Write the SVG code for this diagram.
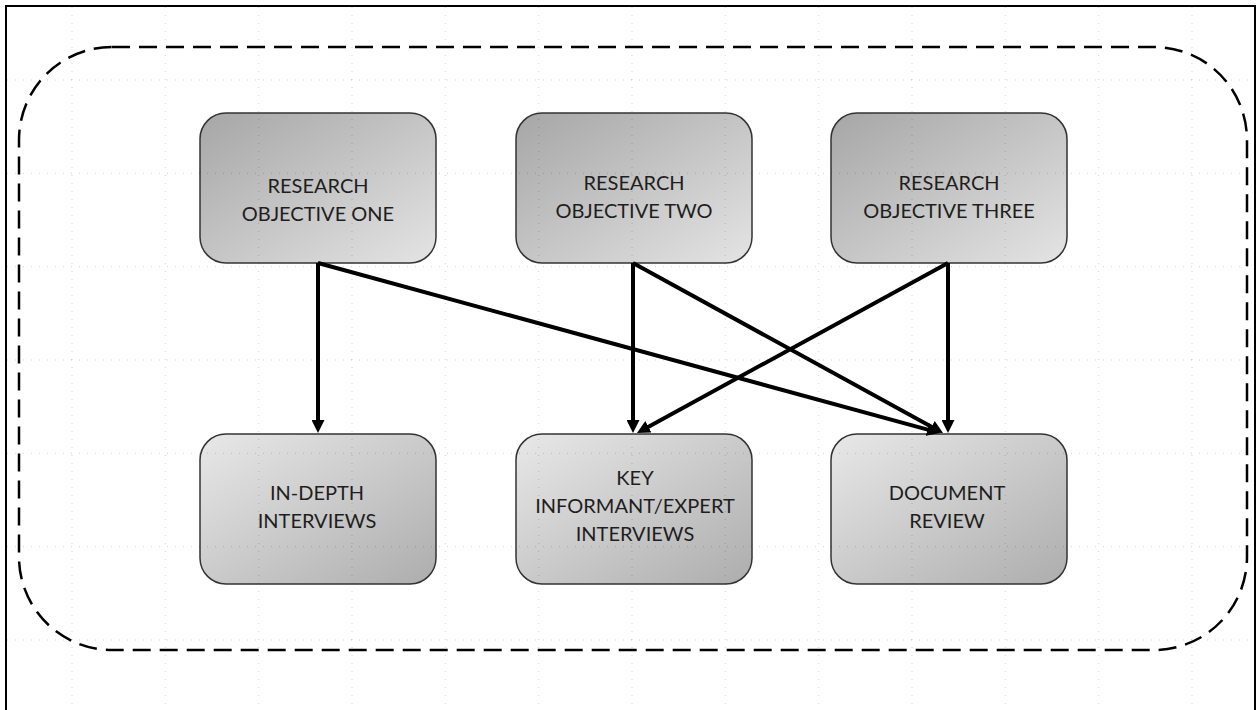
<svg xmlns="http://www.w3.org/2000/svg" width="1257" height="710" viewBox="0 0 1257 710">
  <style>
    .node rect { stroke: #333; stroke-width: 1.5; }
    .objective rect { fill: url(#gradObjective); }
    .method rect { fill: url(#gradMethod); }
    .node text { font-family: "Lato", "Liberation Sans", sans-serif; font-size: 20px; fill: #1e1e1e; text-anchor: middle; }
    .grid line { stroke: #000; stroke-opacity: 0.18; stroke-width: 1; stroke-dasharray: 1 7; }
    .edges line { stroke: #000; stroke-width: 4; marker-end: url(#arrow); }
  </style>
  <defs>
    <linearGradient id="gradObjective" x1="0" y1="0" x2="1" y2="1">
      <stop offset="0" stop-color="#a6a6a6"/>
      <stop offset="1" stop-color="#e4e4e4"/>
    </linearGradient>
    <linearGradient id="gradMethod" x1="0" y1="0" x2="1" y2="1">
      <stop offset="0" stop-color="#e8e8e8"/>
      <stop offset="1" stop-color="#adadad"/>
    </linearGradient>
    <marker id="arrow" markerUnits="userSpaceOnUse" markerWidth="13" markerHeight="13" refX="4" refY="6.5" orient="auto">
      <path d="M0,0 L13,6.5 L0,13 z" fill="#000"/>
    </marker>
  </defs>

  <rect x="0" y="0" width="1257" height="710" fill="#fff"/>

  <!-- page frame -->
  <path d="M6,710 V6 H1255 V710" fill="none" stroke="#000" stroke-width="2"/>

  <!-- dashed boundary -->
  <rect id="boundary" x="19" y="47" width="1228" height="603" rx="93" ry="93" fill="none" stroke="#000" stroke-width="2.5" stroke-dasharray="18 9"/>

  <!-- research objectives -->
  <g id="objective-one" class="node objective">
    <rect x="200" y="113" width="236" height="150" rx="26"/>
    <text x="318" y="193">RESEARCH</text>
    <text x="318" y="221">OBJECTIVE ONE</text>
  </g>
  <g id="objective-two" class="node objective">
    <rect x="516" y="113" width="236" height="150" rx="26"/>
    <text x="634" y="190">RESEARCH</text>
    <text x="634" y="218">OBJECTIVE TWO</text>
  </g>
  <g id="objective-three" class="node objective">
    <rect x="831" y="113" width="236" height="150" rx="26"/>
    <text x="949" y="190">RESEARCH</text>
    <text x="949" y="218">OBJECTIVE THREE</text>
  </g>

  <!-- data collection methods -->
  <g id="in-depth-interviews" class="node method">
    <rect x="200" y="434" width="236" height="150" rx="26"/>
    <text x="317" y="500">IN-DEPTH</text>
    <text x="317" y="528">INTERVIEWS</text>
  </g>
  <g id="key-informant-interviews" class="node method">
    <rect x="516" y="434" width="236" height="150" rx="26"/>
    <text x="635" y="485">KEY</text>
    <text x="635" y="513">INFORMANT/EXPERT</text>
    <text x="635" y="541">INTERVIEWS</text>
  </g>
  <g id="document-review" class="node method">
    <rect x="831" y="434" width="236" height="150" rx="26"/>
    <text x="947" y="500">DOCUMENT</text>
    <text x="947" y="528">REVIEW</text>
  </g>

  <!-- connectors -->
  <g id="edges" class="edges">
    <line x1="318" y1="263" x2="318" y2="424"/>
    <line x1="318" y1="263" x2="931.3" y2="430.6"/>
    <line x1="633" y1="263" x2="633" y2="424"/>
    <line x1="633" y1="263" x2="935.1" y2="428.7"/>
    <line x1="948" y1="263" x2="948" y2="424"/>
    <line x1="948" y1="263" x2="644.9" y2="428.7"/>
  </g>

  <!-- dotted background grid -->
  <g class="grid">
    <line x1="72" y1="7" x2="72" y2="710"/>
    <line x1="165.3" y1="7" x2="165.3" y2="710"/>
    <line x1="258.7" y1="7" x2="258.7" y2="710"/>
    <line x1="352" y1="7" x2="352" y2="710"/>
    <line x1="445.3" y1="7" x2="445.3" y2="710"/>
    <line x1="538.7" y1="7" x2="538.7" y2="710"/>
    <line x1="632" y1="7" x2="632" y2="710"/>
    <line x1="725.3" y1="7" x2="725.3" y2="710"/>
    <line x1="818.7" y1="7" x2="818.7" y2="710"/>
    <line x1="912" y1="7" x2="912" y2="710"/>
    <line x1="1005.3" y1="7" x2="1005.3" y2="710"/>
    <line x1="1098.7" y1="7" x2="1098.7" y2="710"/>
    <line x1="1192" y1="7" x2="1192" y2="710"/>
    <line x1="7" y1="80" x2="1254" y2="80"/>
    <line x1="7" y1="173.3" x2="1254" y2="173.3"/>
    <line x1="7" y1="266.7" x2="1254" y2="266.7"/>
    <line x1="7" y1="360" x2="1254" y2="360"/>
    <line x1="7" y1="453.3" x2="1254" y2="453.3"/>
    <line x1="7" y1="546.7" x2="1254" y2="546.7"/>
    <line x1="7" y1="640" x2="1254" y2="640"/>
  </g>
</svg>
